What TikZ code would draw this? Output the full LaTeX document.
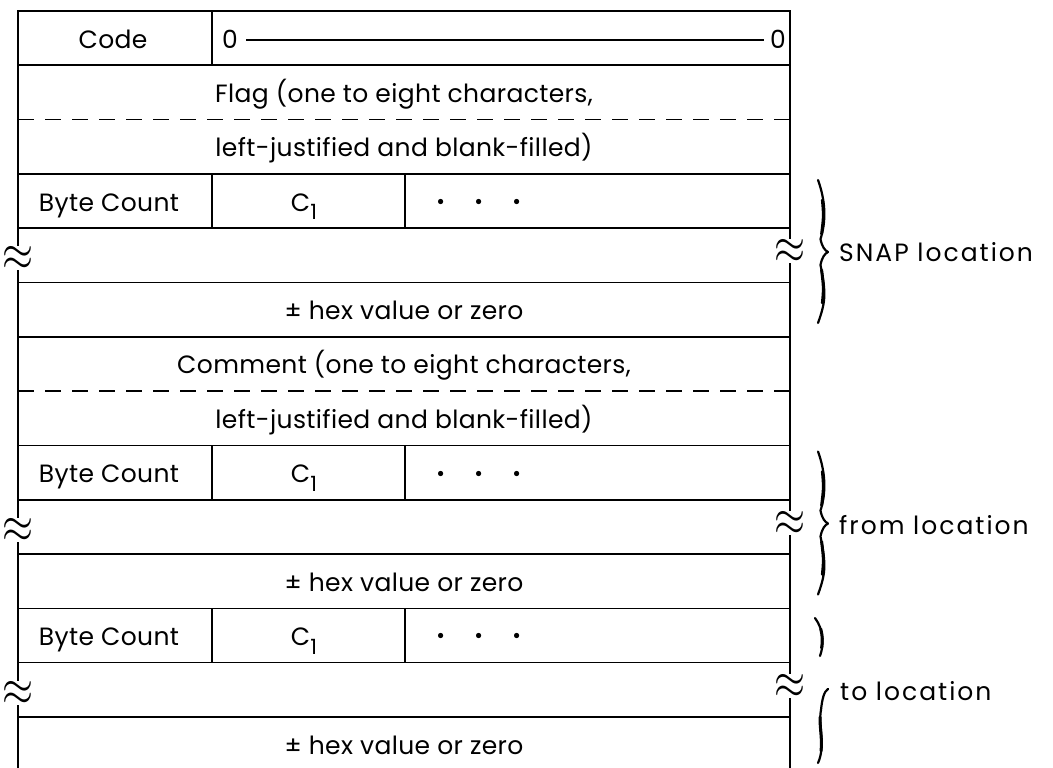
\documentclass[tikz,border=0pt]{standalone}
\usepackage{fontspec}
\setmainfont{Poppins}[LetterSpace=1.5]
\newfontfamily\lblfont{Poppins}[LetterSpace=8]
\usepackage{graphicx}
\newcommand\bracepath[3]{%
  \draw[bracestroke] (818,#1) .. controls (826,#1+22) and (826,#2-30) .. (820.5,#2-13) .. controls (822,#2-5) and (825,#2-1.5) .. (828,#2);
  \draw[bracestroke] (828,#2) .. controls (825,#2+1.5) and (822,#2+5) .. (820.5,#2+13) .. controls (826,#3-30) and (826,#3-22) .. (818,#3);
  \draw[bracecore] (822.4,#1+20) .. controls (823.8,#1+35) and (823.8,#2-35) .. (821.6,#2-18);
  \draw[bracecore] (821.6,#2+18) .. controls (823.8,#3-35) and (823.8,#3-35) .. (822.4,#3-20);
}
\newcommand\onedot{\raisebox{-5.5pt}{\scalebox{1.7}{·}}}
\newcommand\threedots{\onedot\hspace{29pt}\onedot\hspace{29pt}\onedot}
\newcommand\cone{C\raisebox{-0.35em}{\fontsize{21}{21}\selectfont 1}}
\newcommand\brk{\scalebox{1.6}[2.0]{$\approx$}}
\begin{document}
\begin{tikzpicture}[x=1pt,y=-1pt,
  frame/.style={line width=1.6pt, black},
  dashline/.style={line width=1.4pt, dash pattern=on 16pt off 11pt},
  txt/.style={font=\fontsize{25}{29}\selectfont, inner sep=0pt, anchor=base},
  lbl/.style={font=\lblfont\fontsize{25}{29}\selectfont, inner sep=0pt, anchor=west},
  wavy/.style={inner sep=0pt, fill=white, font=\fontsize{24}{28}\selectfont},
  bracestroke/.style={line width=2.2pt, line cap=round},
  bracecore/.style={line width=3pt, line cap=round}]
\useasboundingbox (0,0) rectangle (1053,768);
\clip (0,0) rectangle (1053,768);
% horizontal lines
\foreach \k in {0,1,3,4,5,6,8,9,10,11,12,13,14}
  \draw[frame] (18,{11+54.3*\k}) -- (790,{11+54.3*\k});
\foreach \k in {2,7}
  \draw[dashline] (18,{11+54.3*\k}) -- (790,{11+54.3*\k});
% walls
\draw[frame] (18,10.2) -- (18,780);
\draw[frame] (790,10.2) -- (790,780);
% dividers
\draw[frame] (212,11) -- (212,65.3);
\foreach \t in {173.9,445.4,608.3} {
  \draw[frame] (212,\t) -- (212,\t+54.3);
  \draw[frame] (405,\t) -- (405,\t+54.3);
}
% row 0
\node[txt] (code) at (113,48.2) {Code};
\node[txt,anchor=base west] (zl) at (222,48.2) {0};
\node[txt,anchor=base east] (zr) at (786,48.2) {0};
\draw[line width=1.4pt] ([xshift=8pt,yshift=-1pt]zl.east) -- ([xshift=-6pt,yshift=-1pt]zr.west);
% flag
\node[txt] (flag1) at (404,102.45) {Flag (one to eight characters,};
\node[txt] (flag2) at (404,156.75) {left-justified and blank-filled)};
% byte count rows
\node[txt] (bc1) at (109,211.05) {Byte Count};
\node[txt] (c1) at (304,211.05) {\cone};
\node[txt] (d1) at (479,211.05) {\threedots};
\node[txt] (hex1) at (404,319.65) {± hex value or zero};
\node[txt] (com1) at (404,373.95) {Comment (one to eight characters,};
\node[txt] (com2) at (404,428.25) {left-justified and blank-filled)};
\node[txt] (bc2) at (109,482.55) {Byte Count};
\node[txt] (c2) at (304,482.55) {\cone};
\node[txt] (d2) at (479,482.55) {\threedots};
\node[txt] (hex2) at (404,591.15) {± hex value or zero};
\node[txt] (bc3) at (109,645.45) {Byte Count};
\node[txt] (c3) at (304,645.45) {\cone};
\node[txt] (d3) at (479,645.45) {\threedots};
\node[txt] (hex3) at (404,754.05) {± hex value or zero};
% break marks
\node[wavy] (wl1) at (18,258) {\brk};
\node[wavy] (wr1) at (790,251) {\brk};
\node[wavy] (wl2) at (18,530) {\brk};
\node[wavy] (wr2) at (790,523) {\brk};
\node[wavy] (wl3) at (18,693) {\brk};
\node[wavy] (wr3) at (790,686) {\brk};
% braces
\bracepath{180}{252}{323}
\bracepath{451.5}{523.5}{594.5}
\draw[bracestroke] (815,618) .. controls (824,630) and (824,645) .. (820,656);
\draw[bracecore] (820.8,629) .. controls (822.6,636) and (822.6,642) .. (821.6,648);
\draw[bracestroke] (828,689) .. controls (824,691) and (822,700) .. (821,710) .. controls (818,725) and (826,745) .. (818,763);
\draw[bracecore] (820,717) .. controls (819.8,728) and (822.4,740) .. (821,751);
% labels
\node[lbl] (snap) at (839,252) {SNAP location};
\node[lbl] (from) at (839,525) {from location};
\node[lbl] (to) at (840,691) {to location};
\end{tikzpicture}
\end{document}
